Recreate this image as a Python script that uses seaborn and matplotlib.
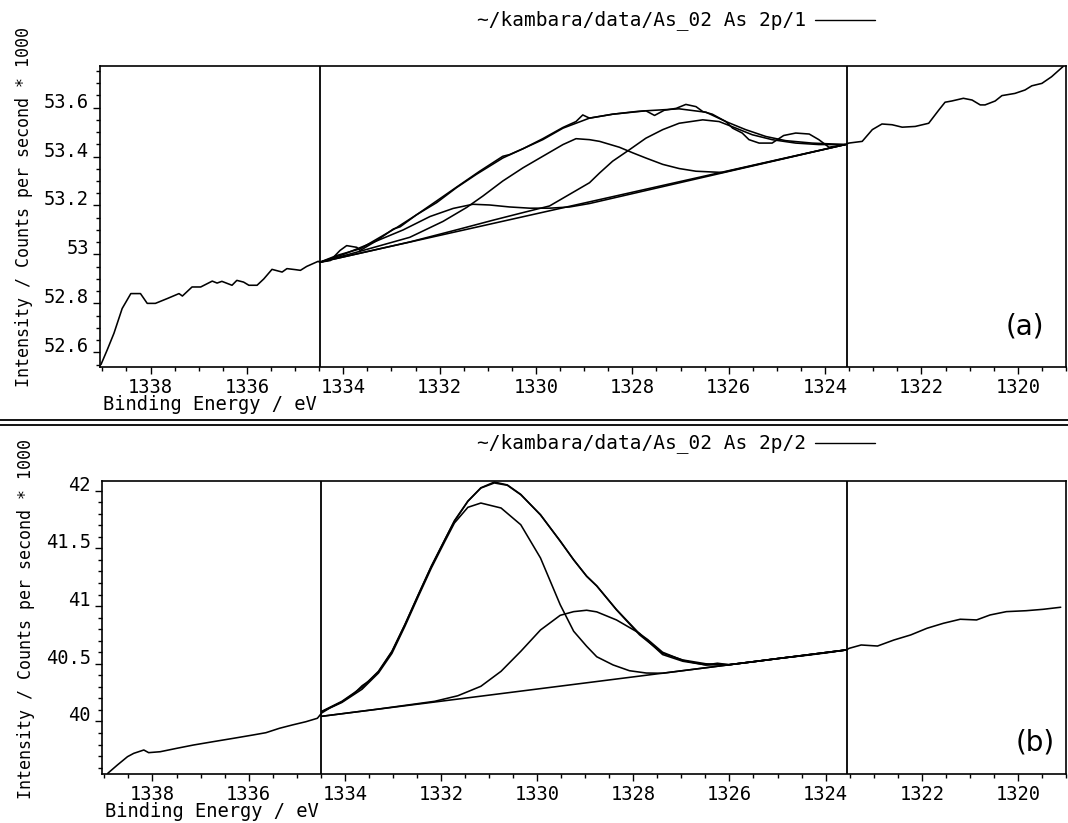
import matplotlib.pyplot as plt
import seaborn as sns
from matplotlib.lines import Line2D
from matplotlib.ticker import MultipleLocator

# --- DATA (binding energy in eV, intensity in counts/s * 1000) ---

# panel (a): As 2p/1
a_raw_e = [1339.03, 1338.90, 1338.76, 1338.59, 1338.41, 1338.21, 1338.07, 1337.90, 1337.65,
           1337.41, 1337.34, 1337.14, 1336.96, 1336.72, 1336.62, 1336.52, 1336.31, 1336.21,
           1336.07, 1335.96, 1335.79, 1335.65, 1335.48, 1335.27, 1335.17, 1335.00, 1334.89,
           1334.76, 1334.52, 1334.49, 1334.27, 1334.07, 1333.93, 1333.72, 1333.65, 1333.31,
           1332.96, 1332.82, 1332.48, 1332.06, 1331.65, 1331.17, 1330.69, 1330.55, 1330.27,
           1329.86, 1329.44, 1329.17, 1329.03, 1328.89, 1328.41, 1327.92, 1327.72, 1327.54,
           1327.34, 1327.09, 1326.89, 1326.68, 1326.54, 1326.34, 1326.06, 1325.92, 1325.72,
           1325.58, 1325.37, 1325.10, 1324.86, 1324.61, 1324.33, 1324.13, 1323.92, 1323.58,
           1323.51, 1323.23, 1323.02, 1322.82, 1322.61, 1322.40, 1322.13, 1321.85, 1321.64,
           1321.51, 1321.37, 1321.13, 1320.95, 1320.78, 1320.68, 1320.47, 1320.33, 1320.06,
           1319.85, 1319.71, 1319.50, 1319.30, 1319.06]
a_raw_i = [52.550, 52.610, 52.678, 52.779, 52.840, 52.840, 52.800, 52.800, 52.820,
           52.840, 52.830, 52.867, 52.867, 52.891, 52.883, 52.890, 52.874, 52.894,
           52.887, 52.874, 52.874, 52.900, 52.939, 52.928, 52.942, 52.938, 52.935,
           52.951, 52.972, 52.968, 52.975, 53.016, 53.036, 53.029, 53.016, 53.056,
           53.104, 53.113, 53.162, 53.219, 53.275, 53.340, 53.401, 53.408, 53.432,
           53.473, 53.519, 53.543, 53.570, 53.557, 53.573, 53.584, 53.587, 53.568,
           53.589, 53.597, 53.613, 53.604, 53.584, 53.573, 53.543, 53.516, 53.496,
           53.469, 53.455, 53.455, 53.486, 53.496, 53.492, 53.469, 53.438, 53.449,
           53.455, 53.462, 53.510, 53.533, 53.530, 53.520, 53.523, 53.536, 53.590,
           53.622, 53.627, 53.638, 53.631, 53.611, 53.611, 53.627, 53.649, 53.658,
           53.672, 53.689, 53.699, 53.726, 53.768]

a_env_e = [1334.49, 1334.13, 1333.65, 1333.24, 1332.89, 1332.48, 1332.06, 1331.65, 1331.24,
           1330.69, 1330.27, 1329.86, 1329.44, 1328.89, 1328.41, 1327.72, 1327.03, 1326.47,
           1326.06, 1325.65, 1325.23, 1324.82, 1324.27, 1323.58]
a_env_i = [52.968, 52.996, 53.023, 53.070, 53.110, 53.162, 53.212, 53.273, 53.327,
           53.394, 53.432, 53.469, 53.516, 53.557, 53.573, 53.587, 53.595, 53.581,
           53.543, 53.510, 53.482, 53.465, 53.455, 53.449]

a_base_e = [1334.49, 1323.58]
a_base_i = [52.968, 53.449]

a_p1_e = [1334.49, 1334.00, 1333.31, 1332.76, 1332.20, 1331.72, 1331.31, 1330.96, 1330.55,
          1330.13, 1329.72, 1329.30, 1328.89, 1323.58]
a_p1_i = [52.968, 53.000, 53.055, 53.100, 53.155, 53.188, 53.205, 53.202, 53.194,
          53.189, 53.189, 53.194, 53.208, 53.449]

a_p2_e = [1334.49, 1333.65, 1332.62, 1331.93, 1331.44, 1331.10, 1330.69, 1330.27, 1329.86,
          1329.44, 1329.17, 1328.89, 1328.68, 1328.27, 1327.99, 1327.72, 1327.37, 1327.03,
          1326.68, 1326.13, 1323.58]
a_p2_i = [52.968, 53.013, 53.070, 53.135, 53.192, 53.239, 53.300, 53.354, 53.401,
          53.449, 53.473, 53.469, 53.462, 53.438, 53.415, 53.394, 53.368, 53.351,
          53.340, 53.335, 53.449]

a_p3_e = [1334.49, 1332.62, 1331.58, 1330.89, 1330.27, 1329.72, 1329.30, 1328.89, 1328.68,
          1328.41, 1328.06, 1327.72, 1327.37, 1327.03, 1326.54, 1326.20, 1325.85, 1325.51,
          1325.10, 1324.61, 1324.13, 1323.58]
a_p3_i = [52.968, 53.051, 53.104, 53.140, 53.171, 53.198, 53.246, 53.293, 53.333,
          53.381, 53.428, 53.475, 53.510, 53.536, 53.550, 53.543, 53.516, 53.489,
          53.469, 53.455, 53.449, 53.449]

# panel (b): As 2p/2
b_raw_e = [1338.93, 1338.73, 1338.52, 1338.39, 1338.18, 1338.08, 1337.84, 1337.49, 1337.15,
           1336.74, 1336.32, 1335.91, 1335.64, 1335.36, 1335.09, 1334.81, 1334.57, 1334.48,
           1334.30, 1334.06, 1333.80, 1333.64, 1333.50, 1333.30, 1333.02, 1332.75, 1332.47,
           1332.20, 1331.92, 1331.72, 1331.44, 1331.17, 1330.89, 1330.62, 1330.34, 1329.93,
           1329.52, 1329.24, 1328.97, 1328.76, 1328.35, 1327.87, 1327.70, 1327.39, 1326.97,
           1326.75, 1326.49, 1326.25, 1326.01, 1325.46, 1324.91, 1324.60, 1324.36, 1324.10,
           1323.57, 1323.51, 1323.26, 1322.92, 1322.58, 1322.23, 1321.89, 1321.55, 1321.20,
           1320.86, 1320.58, 1320.24, 1319.83, 1319.48, 1319.11]
b_raw_i = [39.551, 39.623, 39.695, 39.724, 39.753, 39.730, 39.738, 39.768, 39.796,
           39.825, 39.854, 39.883, 39.903, 39.941, 39.970, 39.998, 40.028, 40.074,
           40.120, 40.170, 40.245, 40.310, 40.350, 40.430, 40.605, 40.840, 41.100,
           41.345, 41.575, 41.740, 41.910, 42.025, 42.075, 42.050, 41.968, 41.790,
           41.565, 41.400, 41.260, 41.175, 40.970, 40.760, 40.710, 40.600, 40.530,
           40.510, 40.490, 40.505, 40.492, 40.520, 40.550, 40.565, 40.578, 40.592,
           40.620, 40.634, 40.663, 40.654, 40.706, 40.750, 40.808, 40.851, 40.886,
           40.880, 40.923, 40.952, 40.960, 40.972, 40.990]

b_env_e = [1334.48, 1334.06, 1333.64, 1333.30, 1333.02, 1332.75, 1332.47, 1332.20, 1331.92,
           1331.72, 1331.44, 1331.17, 1330.89, 1330.62, 1330.34, 1329.93, 1329.52, 1329.24,
           1328.97, 1328.76, 1328.35, 1327.87, 1327.39, 1326.97, 1326.49, 1326.01, 1325.46,
           1324.91, 1324.36, 1323.95, 1323.57]
b_env_i = [40.088, 40.175, 40.296, 40.435, 40.608, 40.839, 41.099, 41.345, 41.575,
           41.735, 41.908, 42.023, 42.067, 42.047, 41.965, 41.792, 41.562, 41.402,
           41.258, 41.175, 40.968, 40.751, 40.591, 40.533, 40.500, 40.492, 40.520,
           40.550, 40.575, 40.597, 40.620]

b_base_e = [1334.48, 1323.57]
b_base_i = [40.045, 40.620]

b_p1_e = [1334.48, 1334.06, 1333.64, 1333.30, 1333.02, 1332.75, 1332.47, 1332.20, 1331.92,
          1331.72, 1331.44, 1331.17, 1330.75, 1330.34, 1329.93, 1329.52, 1329.24, 1328.97,
          1328.76, 1328.42, 1328.08, 1327.73, 1327.39, 1323.57]
b_p1_i = [40.085, 40.165, 40.280, 40.420, 40.590, 40.825, 41.085, 41.330, 41.560,
          41.720, 41.856, 41.893, 41.850, 41.705, 41.417, 41.012, 40.782, 40.652,
          40.561, 40.490, 40.440, 40.420, 40.418, 40.620]

b_p2_e = [1334.48, 1333.30, 1332.13, 1331.65, 1331.17, 1330.75, 1330.34, 1329.93, 1329.52,
          1329.24, 1328.97, 1328.76, 1328.35, 1327.87, 1327.39, 1326.97, 1326.49, 1326.01,
          1323.57]
b_p2_i = [40.045, 40.108, 40.175, 40.223, 40.305, 40.435, 40.608, 40.793, 40.920,
          40.952, 40.964, 40.950, 40.880, 40.764, 40.580, 40.522, 40.490, 40.492,
          40.620]

# region limits of the fit (vertical markers)
fit_window = [1334.49, 1323.55]

x_ticks = [1320, 1322, 1324, 1326, 1328, 1330, 1332, 1334, 1336, 1338]
a_yticks = [52.6, 52.8, 53.0, 53.2, 53.4, 53.6]
b_yticks = [40.0, 40.5, 41.0, 41.5, 42.0]

a_title = "~/kambara/data/As_02 As 2p/1"
b_title = "~/kambara/data/As_02 As 2p/2"
y_label = "Intensity / Counts per second * 1000"
x_label = "Binding Energy / eV"

# --- STYLE ---
sns.set_theme(style="ticks")
plt.rcParams["font.family"] = ["DejaVu Sans Mono"]
MONO = 13.5
W, H = 1068, 823


def fig_box(left, top, right, bottom):
    """Pixel box -> figure fraction rect."""
    return [left / W, 1 - bottom / H, (right - left) / W, (bottom - top) / H]


def draw_panel(ax, curves, ylim, yticks, yminor, ybox):
    top, bottom = ybox
    for e, i in curves:
        sns.lineplot(x=e, y=i, ax=ax, color="black", linewidth=1.15,
                     sort=False, estimator=None)
    for xv in fit_window:
        ax.axvline(xv, color="black", lw=1.3)

    ax.set_xlim(1339.05, 1319.0)
    ax.set_ylim(*ylim)
    ax.set_xticks(x_ticks)
    ax.xaxis.set_minor_locator(MultipleLocator(0.5))
    ax.set_yticks(yticks, [f"{v:g}" for v in yticks], va="baseline")
    ax.yaxis.set_minor_locator(MultipleLocator(yminor))
    ax.tick_params(which="both", direction="out", color="black", width=1,
                   labelsize=MONO, labelcolor="black")
    ax.tick_params(which="major", length=5, pad=3)
    ax.tick_params(which="minor", length=3)
    for s in ax.spines.values():
        s.set_visible(True)
        s.set_color("black")
        s.set_linewidth(1.2)

    h = bottom - top
    ax.set_xlabel(x_label, loc="left", fontsize=MONO, color="black")
    ax.xaxis.set_label_coords(0.003, -(28 / h))
    ax.set_ylabel(y_label, fontsize=12, color="black")
    ax.yaxis.set_label_coords(-0.069, 0.53)


fig = plt.figure(figsize=(W / 100, H / 100), dpi=100)
fig.patch.set_facecolor("white")

ax_a = fig.add_axes(fig_box(100, 66, 1066, 367))
draw_panel(ax_a,
           [(a_raw_e, a_raw_i), (a_env_e, a_env_i), (a_base_e, a_base_i),
            (a_p1_e, a_p1_i), (a_p2_e, a_p2_i), (a_p3_e, a_p3_i)],
           (52.54, 53.77), a_yticks, 0.05, (66, 367))
ax_a.text(0.957, 0.135, "(a)", transform=ax_a.transAxes, ha="center", va="center",
          fontsize=20, family=["DejaVu Sans"], color="black")

ax_b = fig.add_axes(fig_box(102, 481, 1066, 774))
draw_panel(ax_b,
           [(b_raw_e, b_raw_i), (b_env_e, b_env_i), (b_base_e, b_base_i),
            (b_p1_e, b_p1_i), (b_p2_e, b_p2_i)],
           (39.545, 42.084), b_yticks, 0.1, (481, 774))
ax_b.text(0.968, 0.106, "(b)", transform=ax_b.transAxes, ha="center", va="center",
          fontsize=20, family=["DejaVu Sans"], color="black")

# file titles with their line sample, like the instrument printout
for title, ypix in [(a_title, 20), (b_title, 443)]:
    yf = 1 - ypix / H
    fig.text(477 / W, yf, title, ha="left", va="center", fontsize=14, color="black")
    fig.add_artist(Line2D([815 / W, 875 / W], [yf, yf], transform=fig.transFigure,
                          color="black", lw=1))

# double rule between the two printouts
for ypix in (420.5, 424.5):
    yf = 1 - ypix / H
    fig.add_artist(Line2D([0, 1], [yf, yf], transform=fig.transFigure,
                          color="black", lw=1.3))

fig.savefig("out.png", dpi=100, facecolor="white")
